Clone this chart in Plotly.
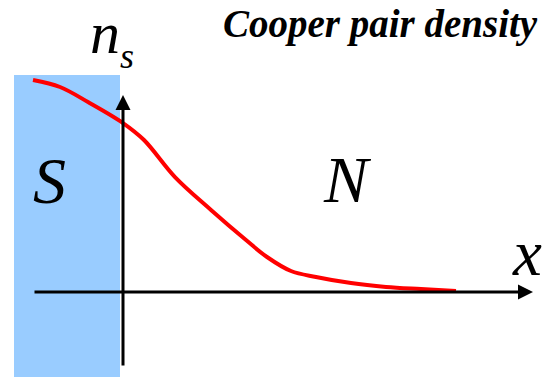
import plotly.graph_objects as go

# Cooper pair density profile n_s(x) across an S/N interface (x=0 at interface)
curve_x = [-0.90, -0.63, -0.35, 0.00, 0.21, 0.52, 0.88, 1.23, 1.44, 1.68, 1.93, 2.28, 2.63, 2.98, 3.33]
curve_y = [1.000, 0.967, 0.896, 0.797, 0.717, 0.542, 0.387, 0.245, 0.165, 0.099, 0.071, 0.042, 0.024, 0.014, 0.005]

title_text = "Cooper pair density"
region_s = "S"
region_n = "N"
x_label = "x"
y_label = "n"
y_label_sub = "s"

W, H = 549, 377
X0, XPX = 123, 100.0   # pixel of x=0, px per unit
Y0, YPX = 292, 212.0   # pixel of y=0, px per unit

def dx(px):
    return (px - X0) / XPX

def dy(py):
    return (Y0 - py) / YPX

fig = go.Figure()
fig.add_trace(go.Scatter(x=curve_x, y=curve_y, mode="lines",
                         line=dict(color="#FF0000", width=4, shape="spline", smoothing=1.0),
                         hoverinfo="skip", showlegend=False))

shapes = [
    dict(type="rect", xref="x", yref="y", layer="below",
         x0=dx(14), x1=dx(120), y0=dy(380), y1=dy(75),
         fillcolor="#99CCFF", line=dict(width=0)),
]

anns = []
# axes drawn as arrows
anns.append(dict(xref="x", yref="y", axref="x", ayref="y", text="",
                 x=dx(533), y=0, ax=dx(33), ay=0, showarrow=True,
                 arrowhead=2, arrowsize=1, arrowwidth=3, arrowcolor="black"))
anns.append(dict(xref="x", yref="y", axref="x", ayref="y", text="",
                 x=0, y=dy(95), ax=0, ay=dy(367), showarrow=True,
                 arrowhead=2, arrowsize=1, arrowwidth=3, arrowcolor="black"))

SERIF = "Liberation Serif"

def txt(s, px, py, size, xanchor="center"):
    anns.append(dict(xref="paper", yref="paper", x=px / W, y=1 - py / H,
                     text=s, showarrow=False, xanchor=xanchor, yanchor="middle",
                     font=dict(family=SERIF, size=size, color="black")))

txt("<b><i>" + title_text + "</i></b>", 540, 24, 39, xanchor="right")
txt("<i>" + y_label + "</i>", 105, 33, 60)
txt("<i>" + y_label_sub + "</i>", 127, 56, 36)
txt("<i>" + region_s + "</i>", 49, 181, 66)
txt("<i>" + region_n + "</i>", 347, 179, 66)
txt("<i>" + x_label + "</i>", 527, 253, 65)

fig.update_layout(
    width=W, height=H, margin=dict(l=0, r=0, t=0, b=0),
    paper_bgcolor="white", plot_bgcolor="white",
    font=dict(family=SERIF, color="black"),
    xaxis=dict(range=[dx(0), dx(W)], visible=False, fixedrange=True),
    yaxis=dict(range=[dy(H), dy(0)], visible=False, fixedrange=True),
    shapes=shapes, annotations=anns, showlegend=False,
)

fig.write_html("out.html", config={"displayModeBar": False},
               post_script="document.body.style.margin='0';document.body.style.overflow='hidden';")
